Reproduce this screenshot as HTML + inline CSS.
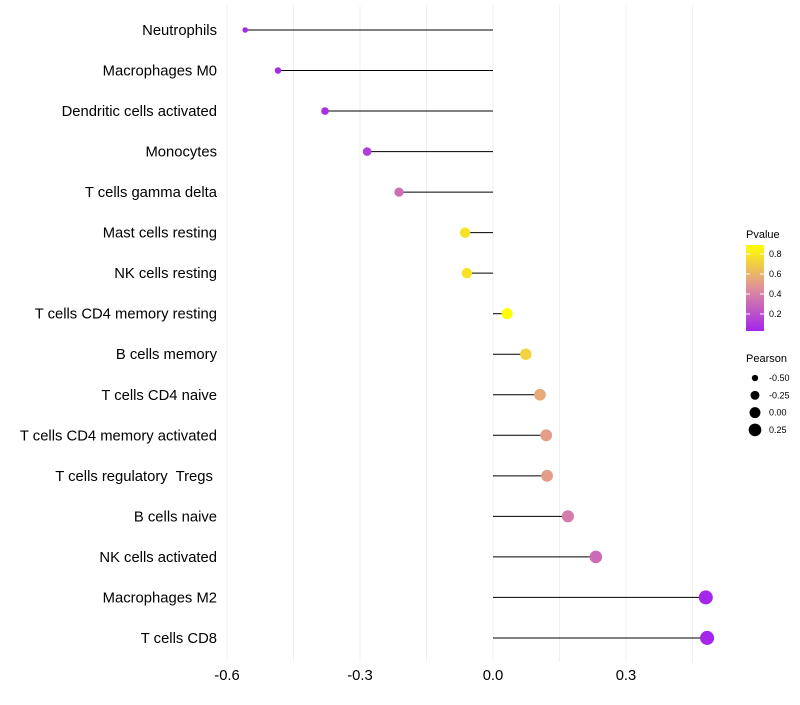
<!DOCTYPE html>
<html><head><meta charset="utf-8"><style>
body{margin:0;background:#fff;font-family:"Liberation Sans",sans-serif}
svg text{font-family:"Liberation Sans",sans-serif;white-space:pre}
</style></head><body>
<svg id="chart" width="800" height="700"></svg>
<script>
const categories=["Neutrophils","Macrophages M0","Dendritic cells activated","Monocytes","T cells gamma delta","Mast cells resting","NK cells resting","T cells CD4 memory resting","B cells memory","T cells CD4 naive","T cells CD4 memory activated","T cells regulatory  Tregs ","B cells naive","NK cells activated","Macrophages M2","T cells CD8"];
const pearson=[-0.559,-0.485,-0.379,-0.284,-0.212,-0.063,-0.059,0.032,0.074,0.106,0.120,0.122,0.169,0.232,0.480,0.483];
const pvalues=[0.03,0.05,0.06,0.12,0.32,0.76,0.76,0.87,0.70,0.55,0.5,0.5,0.37,0.3,0.03,0.03];
const xTicks=[-0.6,-0.3,0.0,0.3];
const xTickLabels=["-0.6","-0.3","0.0","0.3"];
const pTicks=[0.2,0.4,0.6,0.8];
const sizeTicks=[-0.5,-0.25,0,0.25];
const sizeTickLabels=["-0.50","-0.25","0.00","0.25"];

const NS="http://www.w3.org/2000/svg";
const svg=document.getElementById('chart');
function mk(t,a,p){const e=document.createElementNS(NS,t);for(const k in a)e.setAttribute(k,a[k]);(p||svg).appendChild(e);return e;}
const x=v=>493+v*443.3;
const y=i=>30+i*40.53;
const r=v=>Math.sqrt(Math.max(1,30+40*v));
function lerp(a,b,t){return a.map((c,i)=>Math.round(c+(b[i]-c)*t));}
function col(p){const s0=[160,32,240],s1=[222,140,160],s2=[255,255,0];let t=Math.max(0,Math.min(1,p/0.87));let c=t<0.5?lerp(s0,s1,t/0.5):lerp(s1,s2,(t-0.5)/0.5);return `rgb(${c[0]},${c[1]},${c[2]})`;}

for(let v=-0.6;v<=0.46;v+=0.15){const g=mk('line',{x1:x(v),x2:x(v),y1:5,y2:662,stroke:'#f0f0f0','stroke-width':1});

}
xTicks.forEach((v,i)=>{const t=mk('text',{x:x(v),y:680,'font-size':14.8,'text-anchor':'middle',fill:'#000'});t.textContent=xTickLabels[i];

});
categories.forEach((c,i)=>{
const t=mk('text',{x:217,y:y(i)+5,'font-size':14.8,'text-anchor':'end',fill:'#000'});t.textContent=c;


const l=mk('line',{x1:x(0),x2:x(pearson[i]),y1:y(i),y2:y(i),stroke:'#000','stroke-width':1});


const d=mk('circle',{cx:x(pearson[i]),cy:y(i),r:r(pearson[i]),fill:col(pvalues[i])});


});
const lt=mk('text',{x:746,y:238,'font-size':11});lt.textContent="Pvalue";


const defs=mk('defs',{});const gr=mk('linearGradient',{id:'pg',x1:0,y1:1,x2:0,y2:0},defs);
[[0,col(0.02)],[0.5,col(0.45)],[1,col(0.87)]].forEach(s=>mk('stop',{offset:s[0],'stop-color':s[1]},gr));
const bar=mk('rect',{x:746,y:245,width:18,height:86,fill:'url(#pg)'});


pTicks.forEach(v=>{const yy=332-(v-0.02)*100;
const t=mk('text',{x:769,y:yy+3,'font-size':9});t.textContent=v.toFixed(1);


mk('line',{x1:746,x2:750,y1:yy,y2:yy,stroke:'#fff'});mk('line',{x1:760,x2:764,y1:yy,y2:yy,stroke:'#fff'});});
const st=mk('text',{x:746,y:362,'font-size':11});st.textContent="Pearson";


sizeTicks.forEach((v,i)=>{const yy=378+i*17.3;
const c=mk('circle',{cx:755,cy:yy,r:r(v),fill:'#000'});


const t=mk('text',{x:769,y:yy+3,'font-size':9});t.textContent=sizeTickLabels[i];

});
</script>
</body></html>
